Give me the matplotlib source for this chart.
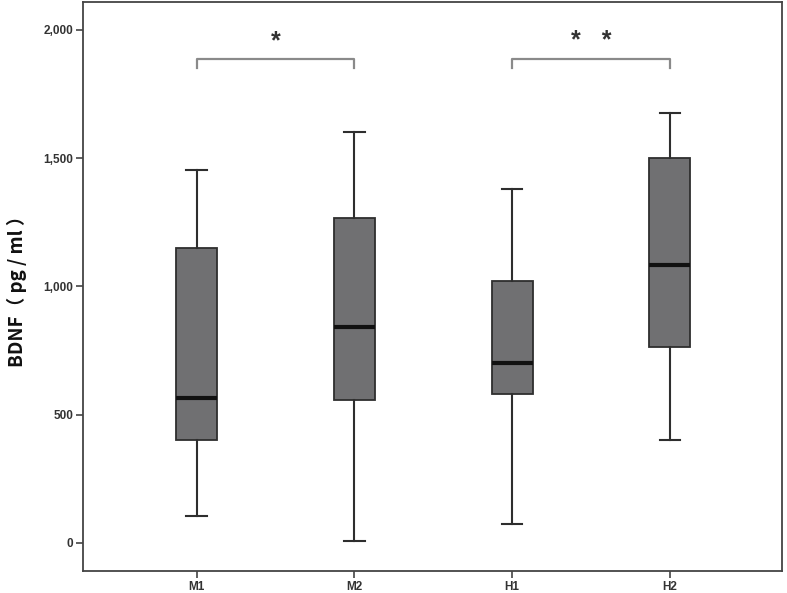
import matplotlib
matplotlib.use("Agg")
import matplotlib.pyplot as plt
from matplotlib.ticker import FuncFormatter

# values (pg/ml)
groups = ["M1", "M2", "H1", "H2"]
whislo = [105, 8, 72, 400]
q1 = [400, 556, 580, 763]
med = [564, 840, 700, 1085]
q3 = [1150, 1267, 1022, 1500]
whishi = [1454, 1602, 1381, 1675]

# significance brackets: (left group, right group, label)
brackets = [(0, 1, "*"), (2, 3, "*   *")]
bracket_y = 1885
bracket_drop = 35

plt.rcParams["font.family"] = ["Liberation Sans", "DejaVu Sans"]

fig = plt.figure(figsize=(7.87, 5.93), dpi=100)
ax = fig.add_axes([0.1055, 0.037, 0.888, 0.96])

stats = []
for i, g in enumerate(groups):
    stats.append({"label": g, "whislo": whislo[i], "q1": q1[i], "med": med[i],
                  "q3": q3[i], "whishi": whishi[i], "fliers": []})

ax.bxp(stats, positions=range(len(groups)), widths=0.26, patch_artist=True,
       showfliers=False,
       boxprops=dict(facecolor="#707072", edgecolor="#2e2e2e", linewidth=1.3),
       medianprops=dict(color="#111111", linewidth=3),
       whiskerprops=dict(color="#2e2e2e", linewidth=1.5),
       capprops=dict(color="#2e2e2e", linewidth=1.5),
       capwidths=0.13)

for a, b, lab in brackets:
    ax.plot([a, a, b, b], [bracket_y - bracket_drop, bracket_y, bracket_y, bracket_y - bracket_drop],
            color="#8a8a8a", linewidth=1.6, solid_joinstyle="round")
    ax.text((a + b) / 2, bracket_y + 25, lab, ha="center", va="bottom",
            fontsize=18, fontweight="bold", color="#333333")

ax.set_xlim(-0.72, 3.71)
ax.set_ylim(-110, 2110)
ax.set_yticks([0, 500, 1000, 1500, 2000])
ax.yaxis.set_major_formatter(FuncFormatter(lambda v, p: f"{int(v):,}"))
ax.set_xticks(range(len(groups)))
ax.set_xticklabels(groups)
ax.tick_params(direction="out", length=5, width=1.2, color="#444444",
               labelsize=8.5, pad=2)
for lab in ax.get_xticklabels() + ax.get_yticklabels():
    lab.set_fontweight("bold")
    lab.set_color("#333333")

for s in ax.spines.values():
    s.set_linewidth(1.3)
    s.set_color("#444444")

ax.set_ylabel("BDNF（ pg / ml ）", fontsize=13.5, fontweight="bold", color="#111111",
              family=["Noto Sans CJK SC", "DejaVu Sans"], labelpad=12)

fig.savefig("out.png", dpi=100)
